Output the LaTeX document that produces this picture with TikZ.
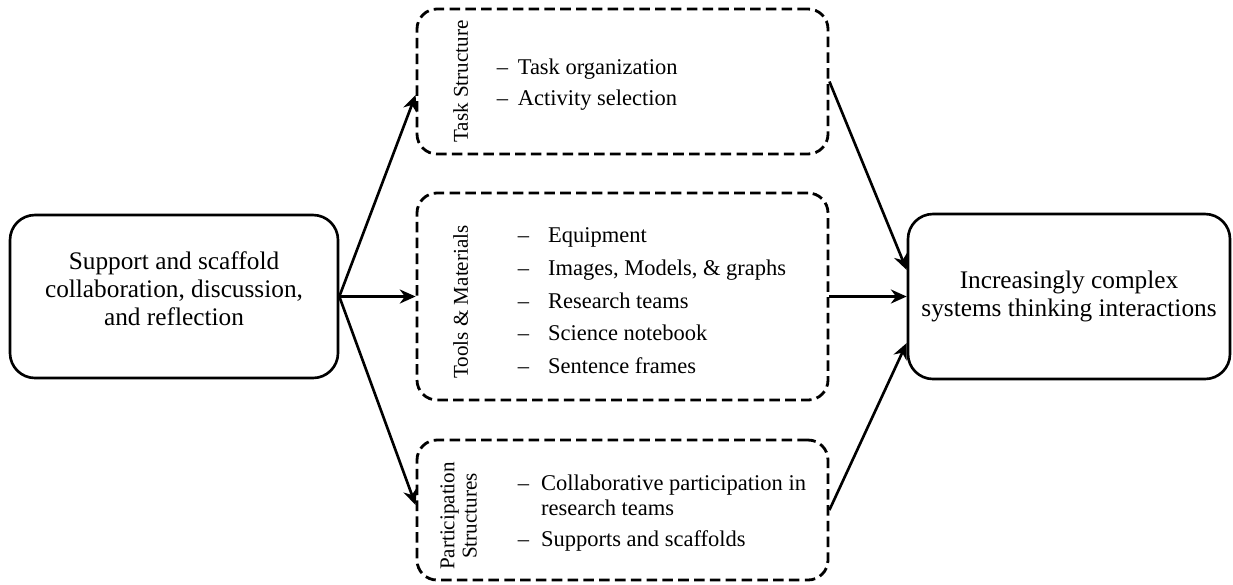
\documentclass[tikz,border=0pt]{standalone}
\usepackage{fontspec}
\setmainfont{Liberation Serif}
\usetikzlibrary{arrows.meta}

\begin{document}
\begin{tikzpicture}[auto, node distance=8.95cm, >={Stealth[length=9pt,width=8pt]},
                    line width=1.5pt,
                    main node/.style={rectangle,draw,rounded corners=0.5cm,align=center,font=\fontsize{14.4}{16}\selectfont},
                    group node/.style={rectangle,draw,rounded corners=0.4cm,line width=1.6pt,dash pattern=on 6pt off 3pt,minimum width=8.22cm},
                    side label/.style={rotate=90,align=center,inner sep=0pt,font=\fontsize{12}{12.6}\selectfont},
                    item list/.style={anchor=west,inner sep=0pt,font=\fontsize{12.8}{14.2}\selectfont}]

  \useasboundingbox (0,0) rectangle (24.66,-11.68);

  \node[main node,minimum width=6.56cm,minimum height=3.26cm] (support) at (3.48,-5.93) {};
  \node[main node,draw=none] (supporttxt) at ([yshift=0.15cm]support.center) {Support and scaffold\\collaboration, discussion,\\and reflection};
  \node[group node,minimum height=4.14cm,node distance=8.97cm] (tools) [right of=support] {};
  \node[group node,minimum height=2.9cm,node distance=4.3cm] (task) [above of=tools] {};
  \node[group node,minimum height=2.8cm,node distance=4.27cm] (part) [below of=tools] {};
  \node[main node,minimum width=6.44cm,minimum height=3.3cm,node distance=8.93cm] (goal) [right of=tools] {Increasingly complex\\systems thinking interactions};

  % labels on the left side of the groups
  \node[side label] (tasklbl) at ([xshift=0.9cm]task.west) {Task Structure};
  \node[side label] (toolslbl) at ([xshift=0.9cm,yshift=-0.11cm]tools.west) {Tools \& Materials};
  \node[side label] (partlbl) at ([xshift=0.86cm,yshift=-0.12cm]part.west) {Participation\\Structures};

  % the lists
  \node[item list] (tasklist) at ([xshift=1.6cm,yshift=-0.07cm]task.west) {%
    \begin{tabular}{@{}l@{\hspace{5.5pt}}l@{}}
      -- & Task organization\\[3.4pt]
      -- & Activity selection
    \end{tabular}};
  \node[item list] (toolslist) at ([xshift=2.02cm,yshift=-0.13cm]tools.west) {%
    \begin{tabular}{@{}l@{\hspace{10.8pt}}l@{}}
      -- & Equipment\\[4.5pt]
      -- & Images, Models, \& graphs\\[4.5pt]
      -- & Research teams\\[4.5pt]
      -- & Science notebook\\[4.5pt]
      -- & Sentence frames
    \end{tabular}};
  \node[item list] (partlist) at ([xshift=2.02cm,yshift=-0.07cm]part.west) {%
    \begin{tabular}{@{}l@{\hspace{6.8pt}}p{5.6cm}@{}}
      -- & Collaborative participation in\newline research teams\\[3.9pt]
      -- & Supports and scaffolds
    \end{tabular}};

  \path[->,every edge/.style={draw,line width=1.5pt}]
    (support.east) edge ([yshift=-0.27cm]task.west)
    (support.east) edge (tools.west)
    (support.east) edge ([yshift=0.1cm]part.west)
    (task.east) edge ([yshift=0.53cm]goal.west)
    (tools.east) edge (goal.west)
    (part.east) edge ([yshift=-0.93cm]goal.west);

\end{tikzpicture}
\end{document}
